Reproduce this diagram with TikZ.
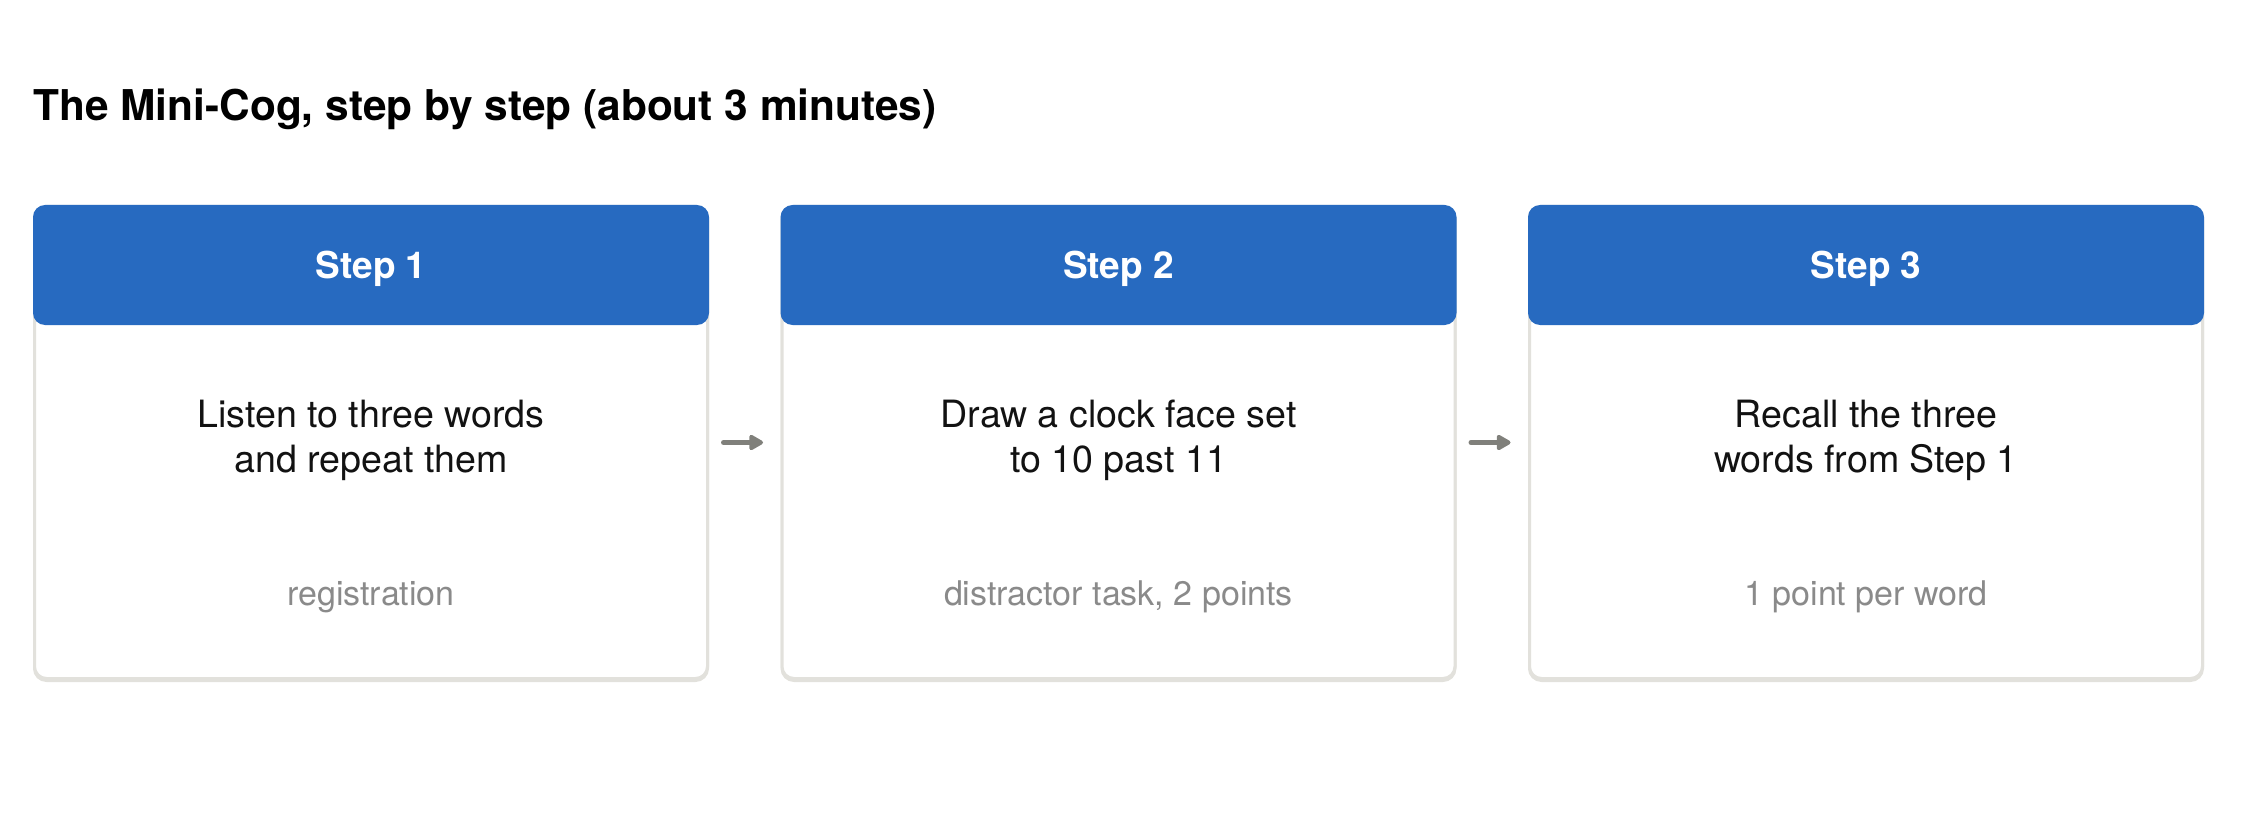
\documentclass[tikz,border=0pt]{standalone}
\usepackage{fontspec}
\setmainfont{TeX Gyre Heros}
\usetikzlibrary{arrows.meta,positioning,calc}
\definecolor{stepblue}{RGB}{39,106,192}
\definecolor{boxline}{RGB}{226,225,220}
\definecolor{arrowgray}{RGB}{128,128,123}
\definecolor{notegray}{RGB}{138,138,138}

\begin{document}
\begin{tikzpicture}[x=0.5pt,y=-0.5pt,>={Triangle[length=8pt,width=8.5pt,round]}]
  \tikzstyle{box}=[draw=boxline,line width=1.5pt,rounded corners=6pt,fill=white,minimum width=336.5pt,minimum height=236pt,inner sep=0pt,outer sep=0pt,
    preaction={draw=boxline,line width=1.5pt,transform canvas={yshift=-1pt}}]
  \tikzstyle{head}=[fill=stepblue,rounded corners=6pt,minimum width=338pt,minimum height=60pt,inner sep=0pt,outer sep=0pt,text depth=0pt,text=white,font=\fontsize{18.5}{22}\selectfont\bfseries]
  \tikzstyle{body}=[align=center,inner sep=0pt,text=black!93,font=\fontsize{18.8}{22.5}\selectfont]
  \tikzstyle{note}=[inner sep=0pt,text=notegray,font=\fontsize{17}{20}\selectfont]
  \tikzstyle{flow}=[->,draw=arrowgray,fill=arrowgray,line width=2.5pt,line cap=round,shorten <=8pt,shorten >=9.5pt]

  \useasboundingbox (0,0) rectangle (2256,840);

  \node[inner sep=0pt,anchor=base west,font=\fontsize{21.2}{25}\selectfont\bfseries] (title) at (33,121) {The Mini-Cog, step by step (about 3 minutes)};

  \node[box] (A) at (371,442.5) {};
  \node[box] (B) [right=37.25pt of A] {};
  \node[box] (C) [right=37.25pt of B] {};

  \node[head,anchor=north] (HA) at ([yshift=0.75pt]A.north) {Step 1};
  \node[head,anchor=north] (HB) at ([yshift=0.75pt]B.north) {Step 2};
  \node[head,anchor=north] (HC) at ([yshift=0.75pt]C.north) {Step 3};

  \node[body,anchor=base] (TA) at ($(A.north)+(0,265.5)$) {Listen to three words\\and repeat them};
  \node[body,anchor=base] (TB) at ($(B.north)+(0,265.5)$) {Draw a clock face set\\to 10 past 11};
  \node[body,anchor=base] (TC) at ($(C.north)+(0,265.5)$) {Recall the three\\words from Step 1};

  \node[note,anchor=base] (NA) at ($(A.north)+(0,398.5)$) {registration};
  \node[note,anchor=base] (NB) at ($(B.north)+(0,398.5)$) {distractor task, 2 points};
  \node[note,anchor=base] (NC) at ($(C.north)+(0,398.5)$) {1 point per word};

  \draw[flow] (A) -- (B);
  \draw[flow] (B) -- (C);
\end{tikzpicture}
\end{document}
